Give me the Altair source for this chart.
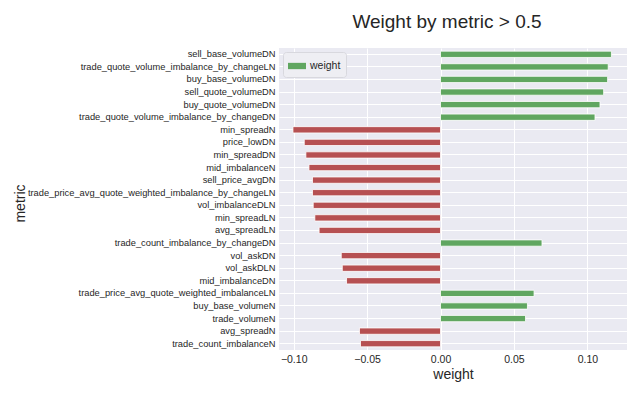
import altair as alt
import pandas as pd

metrics = [
    "sell_base_volumeDN",
    "trade_quote_volume_imbalance_by_changeLN",
    "buy_base_volumeDN",
    "sell_quote_volumeDN",
    "buy_quote_volumeDN",
    "trade_quote_volume_imbalance_by_changeDN",
    "min_spreadN",
    "price_lowDN",
    "min_spreadDN",
    "mid_imbalanceN",
    "sell_price_avgDN",
    "trade_price_avg_quote_weighted_imbalance_by_changeLN",
    "vol_imbalanceDLN",
    "min_spreadLN",
    "avg_spreadLN",
    "trade_count_imbalance_by_changeDN",
    "vol_askDN",
    "vol_askDLN",
    "mid_imbalanceDN",
    "trade_price_avg_quote_weighted_imbalanceLN",
    "buy_base_volumeN",
    "trade_volumeN",
    "avg_spreadN",
    "trade_count_imbalanceN",
]

weights = [
    0.1164, 0.1142, 0.1138, 0.1111, 0.1086, 0.1052,
    -0.1005, -0.0928, -0.0917, -0.0896, -0.0872, -0.0872,
    -0.0867, -0.0856, -0.0827, 0.0691, -0.0676, -0.0669,
    -0.0640, 0.0637, 0.0592, 0.0579, -0.0552, -0.0545,
]

x_ticks = [-0.10, -0.05, 0.0, 0.05, 0.10]

GREEN = "#60a660"
RED = "#b65052"
BG = "#EAEAF2"
TXT = "#262626"

df = pd.DataFrame({"metric": metrics, "weight": weights})
df["series"] = "weight"

legend_df = pd.DataFrame({"metric": [metrics[0]], "weight": [0.0], "series": ["weight"]})

y_enc = alt.Y(
    "metric:N",
    sort=None,
    title="metric",
    scale=alt.Scale(paddingInner=0.5, paddingOuter=0.25),
    axis=alt.Axis(
        labelFontSize=9.3,
        labelColor=TXT,
        labelPadding=4,
        ticks=False,
        domain=False,
        grid=True,
        gridColor="white",
        gridWidth=1,
        bandPosition=0.5,
        titleFontSize=14,
        titleFontWeight="normal",
        titleColor=TXT,
        titleX=-259,
        titleY=155,
        titleAngle=270,
        titleBaseline="middle",
        titleAlign="center",
        labelLimit=400,
    ),
)

x_enc = alt.X(
    "weight:Q",
    title="weight",
    scale=alt.Scale(domain=[-0.110, 0.127], nice=False, zero=False),
    axis=alt.Axis(
        values=x_ticks,
        format=".2f",
        labelFontSize=10.5,
        labelColor=TXT,
        ticks=False,
        domain=False,
        grid=True,
        gridColor="white",
        gridWidth=1,
        labelPadding=4,
        titleFontSize=14,
        titleFontWeight="normal",
        titleColor=TXT,
        titlePadding=3,
    ),
)

bars = alt.Chart(df).mark_bar(stroke="white", strokeWidth=0.8).encode(
    x=x_enc,
    y=y_enc,
    color=alt.condition(alt.datum.weight > 0, alt.value(GREEN), alt.value(RED)),
)

legend_layer = alt.Chart(legend_df).mark_bar(opacity=0).encode(
    x=x_enc,
    y=y_enc,
    color=alt.Color(
        "series:N",
        scale=alt.Scale(domain=["weight"], range=[GREEN]),
        legend=alt.Legend(
            title=None,
            orient="top-left",
            offset=4,
            symbolType="M-1,-0.35H1V0.35H-1Z",
            symbolSize=324,
            symbolOpacity=1,
            symbolStrokeWidth=0,
            labelFontSize=10.5,
            labelColor=TXT,
            fillColor="#EEEEF3",
            strokeColor="#D8D8DE",
            padding=5,
            cornerRadius=3,
        ),
    ),
)

chart = (
    alt.layer(bars, legend_layer)
    .properties(
        width=624,
        height=379,
        autosize=alt.AutoSizeParams(type="fit", contains="padding"),
        title=alt.TitleParams(
            "Weight by metric > 0.5",
            fontSize=19,
            fontWeight="normal",
            color=TXT,
            anchor="middle",
            offset=16,
            dx=-6,
        ),
    )
    .configure(font="Liberation Sans")
    .configure_view(fill=BG, stroke=None)
)

chart.save("out.html", embed_options={"renderer": "svg", "actions": False})
